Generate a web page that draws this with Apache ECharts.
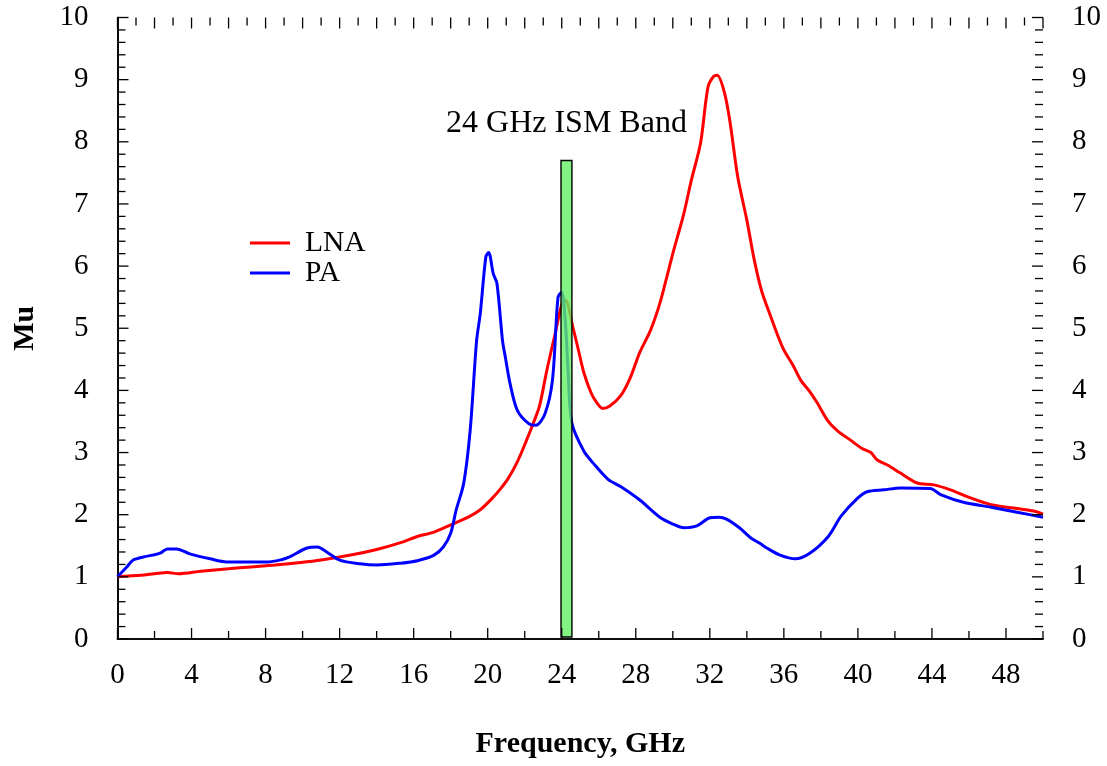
<!DOCTYPE html>
<html>
<head>
<meta charset="utf-8">
<script src="https://cdn.jsdelivr.net/npm/echarts@6/dist/echarts.min.js"></script>
<style>
  html, body { margin: 0; padding: 0; background: #fff; }
  #chart { width: 1107px; height: 766px; }
</style>
</head>
<body>
<div id="chart"></div>
<script>
// Stability factor (Mu) versus frequency for the LNA and PA designs
const lnaFreq = [0, 1, 2, 2.7, 3.3, 4.5, 6, 7.2, 8.5, 9.9, 11, 12.6, 14, 15.3, 16.2, 17.1, 18.1, 19, 19.6, 20.2,
  20.7, 21.1, 21.6, 22.1, 22.5, 22.8, 23.2, 23.65, 24.0, 24.2, 24.6, 24.9, 25.2, 25.6, 25.9, 26.2, 26.6, 27.2, 27.7, 28.2,
  28.8, 29.3, 29.7, 30.0, 30.6, 31.0, 31.5, 31.9, 32.2, 32.4, 32.8, 33.1, 33.5, 34.0, 34.4, 34.8, 35.3, 35.7, 36.0, 36.5,
  36.9, 37.4, 37.8, 38.4, 38.9, 39.6, 40.2, 40.7, 41.05, 41.6, 42.3, 43.2, 44.1, 45.0, 45.9, 47.2, 48.6, 49.5, 50];
const lnaMu = [1.00, 1.02, 1.05, 1.07, 1.05, 1.09, 1.13, 1.16, 1.19, 1.23, 1.27, 1.35, 1.44, 1.55, 1.65, 1.72, 1.85, 1.97, 2.08, 2.25,
  2.42, 2.58, 2.85, 3.2, 3.5, 3.75, 4.33, 4.92, 5.38, 5.45, 5.02, 4.65, 4.28, 3.95, 3.8, 3.71, 3.75, 3.92, 4.2, 4.6,
  4.97, 5.4, 5.85, 6.2, 6.85, 7.38, 7.98, 8.88, 9.05, 9.07, 8.78, 8.3, 7.45, 6.74, 6.1, 5.6, 5.18, 4.86, 4.65, 4.4,
  4.17, 3.98, 3.8, 3.5, 3.35, 3.2, 3.07, 3.0, 2.88, 2.8, 2.67, 2.51, 2.48, 2.4, 2.29, 2.16, 2.1, 2.06, 2.01];

const paFreq = [0, 0.5, 0.85, 1.4, 1.9, 2.3, 2.7, 3.2, 3.9, 5.0, 5.9, 8.1, 8.9, 9.3, 10.2, 10.8, 11.3, 12.0, 13.1, 14.0,
  15.3, 16.2, 17.1, 17.6, 18.0, 18.3, 18.7, 19.05, 19.4, 19.6, 19.9, 20.05, 20.3, 20.5, 20.8, 20.95, 21.2, 21.6, 22.2, 22.6,
  23.1, 23.5, 23.8, 24.0, 24.2, 24.35, 24.55, 25.2, 25.7, 26.5, 27.2, 28.2, 29.3, 30.0, 30.6, 31.3, 32.0, 32.5, 32.9, 33.6,
  34.2, 34.7, 35.1, 35.8, 36.6, 37.4, 38.4, 39.1, 40.0, 40.5, 41.4, 42.3, 43.9, 44.5, 45.7, 47.2, 48.6, 50];
const paMu = [1.00, 1.16, 1.27, 1.32, 1.35, 1.38, 1.45, 1.45, 1.37, 1.29, 1.24, 1.24, 1.28, 1.32, 1.46, 1.48, 1.40, 1.27, 1.21, 1.19,
  1.22, 1.26, 1.35, 1.48, 1.70, 2.08, 2.5, 3.35, 4.8, 5.24, 6.15, 6.22, 5.88, 5.72, 4.8, 4.54, 4.12, 3.68, 3.47, 3.44,
  3.63, 4.17, 5.5, 5.58, 5.08, 4.28, 3.47, 3.02, 2.83, 2.57, 2.45, 2.24, 1.96, 1.85, 1.79, 1.82, 1.95, 1.96, 1.93, 1.79,
  1.63, 1.54, 1.46, 1.35, 1.29, 1.38, 1.65, 1.98, 2.27, 2.37, 2.40, 2.43, 2.42, 2.32, 2.2, 2.12, 2.04, 1.96];

// 24 GHz ISM band marker: [start GHz, end GHz, height]
const ismBand = [[23.96, 24.55, 7.7]];
const ismLabel = '24 GHz ISM Band';

const xRange = { min: 0, max: 50 };
const yRange = { min: 0, max: 10 };
// [major, minor] tick steps for each frame side
const xStepBottom = [4, 2];
const xStepTop = [2, 1];
const yStep = [1, 0.2];
const majorLen = 11, minorLen = 8;

const pairs = (xs, ys) => xs.map((x, i) => [x, ys[i]]);

// Inward tick marks for the whole frame: [side, value, length]
// side: 0 = left, 1 = right, 2 = bottom, 3 = top
function frameTicks(side, range, steps) {
  const out = [];
  const n = Math.round((range.max - range.min) / steps[1]);
  for (let i = 0; i <= n; i++) {
    const v = +(range.min + i * steps[1]).toFixed(4);
    const isMajor = Math.abs(v / steps[0] - Math.round(v / steps[0])) < 1e-6;
    out.push([side, v, isMajor ? majorLen : minorLen]);
  }
  return out;
}
const ticks = [].concat(
  frameTicks(0, yRange, yStep),
  frameTicks(1, yRange, yStep),
  frameTicks(2, xRange, xStepBottom),
  frameTicks(3, xRange, xStepTop)
);

const serif = '"Liberation Serif", "DejaVu Serif", serif';
const tickLabel = { fontFamily: serif, fontSize: 29, color: '#000' };
const frameLine = { show: true, lineStyle: { color: '#000', width: 1.6 } };

const chart = echarts.init(document.getElementById('chart'));
chart.setOption({
  animation: false,
  backgroundColor: '#fff',
  grid: { left: 117.5, right: 64, top: 17.5, bottom: 127, containLabel: false },
  legend: {
    orient: 'vertical',
    left: 250,
    top: 228,
    padding: 0,
    icon: 'rect',
    itemWidth: 40,
    itemHeight: 3,
    itemGap: 0,
    data: ['LNA', 'PA'],
    textStyle: { fontFamily: serif, fontSize: 29.5, lineHeight: 27, color: '#000', padding: [0, 0, 0, 10] }
  },
  xAxis: [
    {
      type: 'value', position: 'bottom', min: xRange.min, max: xRange.max, interval: xStepBottom[0],
      name: 'Frequency, GHz', nameLocation: 'middle', nameGap: 90,
      nameTextStyle: { fontFamily: serif, fontSize: 30, fontWeight: 'bold', color: '#000' },
      axisLine: frameLine, axisTick: { show: false },
      axisLabel: Object.assign({ margin: 22, showMaxLabel: false }, tickLabel),
      splitLine: { show: false }
    },
    {
      type: 'value', position: 'top', min: xRange.min, max: xRange.max, interval: xStepTop[0],
      axisLine: frameLine, axisTick: { show: false }, axisLabel: { show: false }, splitLine: { show: false }
    }
  ],
  yAxis: [
    {
      type: 'value', position: 'left', min: yRange.min, max: yRange.max, interval: yStep[0],
      name: 'Mu', nameLocation: 'middle', nameGap: 77, nameRotate: 90,
      nameTextStyle: { fontFamily: serif, fontSize: 30, fontWeight: 'bold', color: '#000' },
      axisLine: frameLine, axisTick: { show: false },
      axisLabel: Object.assign({ margin: 29 }, tickLabel),
      splitLine: { show: false }
    },
    {
      type: 'value', position: 'right', min: yRange.min, max: yRange.max, interval: yStep[0],
      axisLine: frameLine, axisTick: { show: false },
      axisLabel: Object.assign({ margin: 29 }, tickLabel),
      splitLine: { show: false }
    }
  ],
  series: [
    {
      name: 'LNA', type: 'line', data: pairs(lnaFreq, lnaMu),
      symbol: 'none', smooth: 0.3, z: 3,
      lineStyle: { color: '#ff0000', width: 3 }, itemStyle: { color: '#ff0000' }
    },
    {
      name: 'PA', type: 'line', data: pairs(paFreq, paMu),
      symbol: 'none', smooth: 0.3, z: 4,
      lineStyle: { color: '#0000ff', width: 3 }, itemStyle: { color: '#0000ff' }
    },
    {
      name: 'ISM', type: 'custom', z: 5,
      data: ismBand,
      renderItem: function (params, api) {
        const p0 = api.coord([api.value(0), 0]);
        const p1 = api.coord([api.value(1), api.value(2)]);
        const rect = {
          type: 'rect',
          shape: { x: p0[0], y: p1[1], width: p1[0] - p0[0], height: p0[1] - p1[1] - 2 },
          style: { fill: 'rgba(100,240,100,0.8)', stroke: '#000', lineWidth: 1.4 }
        };
        const label = {
          type: 'text',
          style: {
            x: (p0[0] + p1[0]) / 2, y: api.coord([0, 8.3])[1],
            text: ismLabel, fill: '#000',
            font: '32px ' + serif, align: 'center', verticalAlign: 'middle'
          }
        };
        return { type: 'group', children: [rect, label] };
      }
    },
    {
      name: 'frameTicks', type: 'custom', z: 6, silent: true,
      data: ticks,
      encode: { x: [], y: [] },
      renderItem: function (params, api) {
        const side = api.value(0), v = api.value(1), len = api.value(2);
        let a, b;
        if (side === 0) { a = api.coord([xRange.min, v]); b = [a[0] + len, a[1]]; }
        else if (side === 1) { a = api.coord([xRange.max, v]); b = [a[0] - len, a[1]]; }
        else if (side === 2) { a = api.coord([v, yRange.min]); b = [a[0], a[1] - len]; }
        else { a = api.coord([v, yRange.max]); b = [a[0], a[1] + len]; }
        return {
          type: 'line',
          shape: { x1: a[0], y1: a[1], x2: b[0], y2: b[1] },
          style: { stroke: '#000', lineWidth: 1.3 }
        };
      }
    }
  ]
});
</script>
</body>
</html>
